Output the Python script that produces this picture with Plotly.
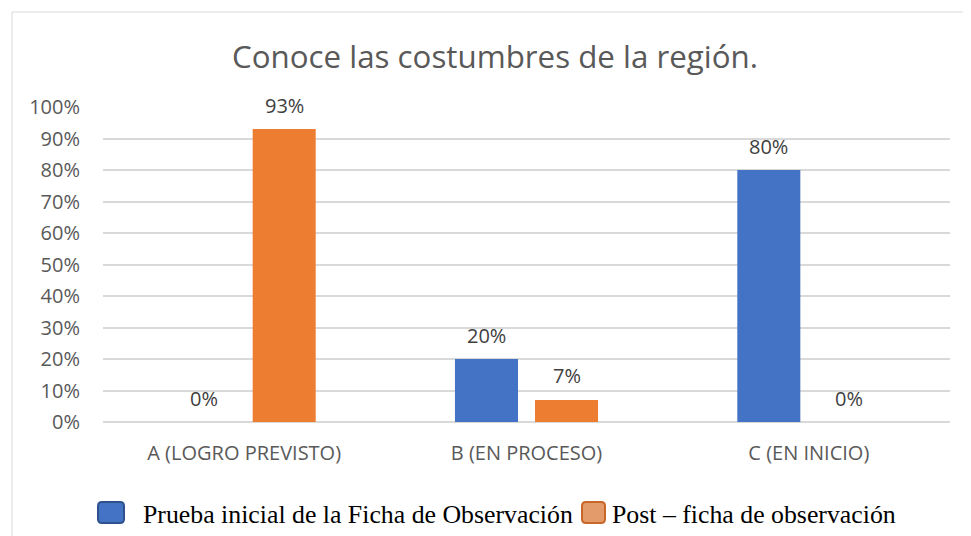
import plotly.graph_objects as go

categories = ["A (LOGRO PREVISTO)", "B (EN PROCESO)", "C (EN INICIO)"]
series_names = ["Prueba inicial de la Ficha de Observación", "Post – ficha de observación"]
pre_values = [0.00, 0.20, 0.80]
post_values = [0.93, 0.07, 0.00]
y_tickvals = [0, 0.1, 0.2, 0.3, 0.4, 0.5, 0.6, 0.7, 0.8, 0.9, 1.0]
y_ticktext = ["0%", "10%", "20%", "30%", "40%", "50%", "60%", "70%", "80%", "90%", "100%"]
title_text = "Conoce las costumbres de la región."

W, H = 971, 536          # page size
O = 8                    # page body margin offset
L, R, T, B = 103, 950, 107, 422  # plot area in page pixels

BLUE = "#4472C4"
ORANGE = "#ED7D31"
SANS = "Open Sans"
SERIF = "Liberation Serif, Times New Roman, serif"


def px_x(x):
    return (x - L) / (R - L)


def px_y(y):
    return (B - y) / (B - T)


fig = go.Figure()
fig.add_trace(go.Bar(x=categories, y=pre_values, name=series_names[0],
                     marker=dict(color=BLUE, line=dict(width=0)), showlegend=False))
fig.add_trace(go.Bar(x=categories, y=post_values, name=series_names[1],
                     marker=dict(color=ORANGE, line=dict(width=0)), showlegend=False))

annotations = []
for vals, shift in ((pre_values, -40), (post_values, 40)):
    for c, v in zip(categories, vals):
        annotations.append(dict(x=c, y=v, xref="x", yref="y", text=f"{v:.0%}",
                                showarrow=False, xshift=shift, yshift=24,
                                yanchor="middle", xanchor="center",
                                font=dict(family=SANS, size=20, color="#404040")))

# title
annotations.append(dict(x=px_x(495), y=px_y(56), xref="paper", yref="paper", text=title_text,
                        showarrow=False, xanchor="center", yanchor="middle",
                        font=dict(family=SANS, size=31.3, color="#595959")))

shapes = []
# outer chart border
shapes.append(dict(type="rect", xref="paper", yref="paper",
                   x0=px_x(12), x1=px_x(1000), y0=px_y(560), y1=px_y(12),
                   line=dict(color="#D9D9D9", width=1), fillcolor="rgba(0,0,0,0)", layer="below"))

# legend (manual)
legend_items = [
    (98, 124, BLUE, "#2F528F", 141, series_names[0]),
    (582, 605, "#E39B6C", "#C8672A", 610, series_names[1]),
]


def rounded_path(x0, y0, x1, y1, r):
    X = lambda v: px_x(v)
    Y = lambda v: px_y(v)
    return (f"M {X(x0 + r)},{Y(y0)} L {X(x1 - r)},{Y(y0)} Q {X(x1)},{Y(y0)} {X(x1)},{Y(y0 + r)} "
            f"L {X(x1)},{Y(y1 - r)} Q {X(x1)},{Y(y1)} {X(x1 - r)},{Y(y1)} "
            f"L {X(x0 + r)},{Y(y1)} Q {X(x0)},{Y(y1)} {X(x0)},{Y(y1 - r)} "
            f"L {X(x0)},{Y(y0 + r)} Q {X(x0)},{Y(y0)} {X(x0 + r)},{Y(y0)} Z")


for x0, x1, fill, edge, tx, name in legend_items:
    shapes.append(dict(type="path", xref="paper", yref="paper",
                       path=rounded_path(x0, 502, x1, 523, 4),
                       fillcolor=fill, line=dict(color=edge, width=2)))
    annotations.append(dict(x=px_x(tx), y=px_y(514), xref="paper", yref="paper", text=name,
                            showarrow=False, xanchor="left", yanchor="middle",
                            font=dict(family=SERIF, size=25.8, color="#000000")))

FW, FH = W - O, H - O
fig.update_layout(
    width=FW, height=FH,
    margin=dict(l=L - O, r=FW - (R - O), t=T - O, b=FH - (B - O), pad=0),
    paper_bgcolor="white", plot_bgcolor="white",
    barmode="group", bargap=0.433, bargroupgap=0.2125,
    showlegend=False,
    annotations=annotations, shapes=shapes,
    xaxis=dict(showgrid=False, showline=False, zeroline=False, ticks="",
               tickfont=dict(family=SANS, size=20, color="#595959"),
               ticklabelstandoff=17),
    yaxis=dict(range=[0, 1.0], tickvals=y_tickvals, ticktext=y_ticktext,
               showgrid=True, gridcolor="#D9D9D9", gridwidth=1.5,
               zeroline=True, zerolinecolor="#D9D9D9", zerolinewidth=1.5,
               showline=False, ticks="",
               tickfont=dict(family=SANS, size=20, color="#595959"),
               ticklabelstandoff=22),
)

fig.write_html("out.html")
